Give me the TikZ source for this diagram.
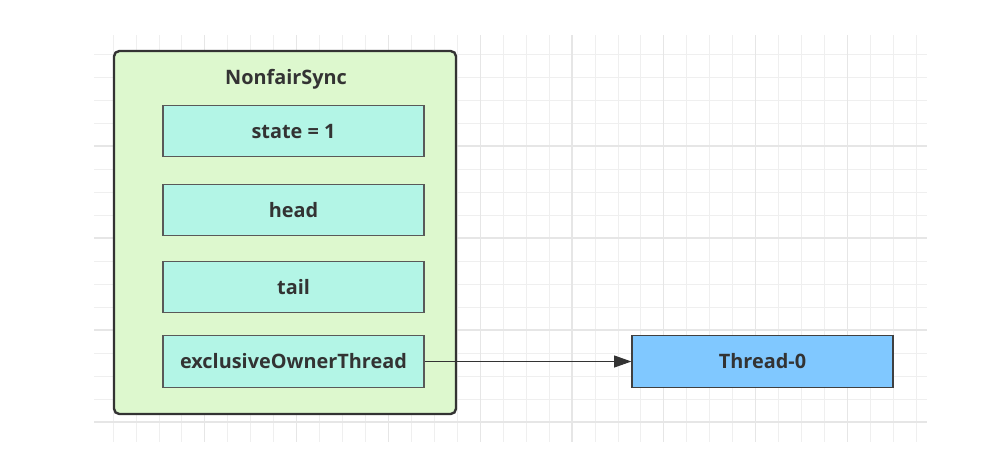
\documentclass[tikz,border=0pt]{standalone}
\usepackage{fontspec}
\setmainfont{Open Sans}
\usetikzlibrary{arrows.meta}
\definecolor{gridminor}{HTML}{EFEFEF}
\definecolor{gridmajor}{HTML}{E6E6E6}
\definecolor{outerfill}{HTML}{DDF8CE}
\definecolor{innerfill}{HTML}{B3F5E6}
\definecolor{threadfill}{HTML}{80C8FF}
\definecolor{txt}{HTML}{333333}
\tikzset{
  lbl/.style={font=\bfseries\fontsize{14.9}{17}\selectfont, text=txt},
  field/.style={draw=black!65, line width=0.9pt, fill=innerfill, minimum width=195.75pt, minimum height=38.5pt, inner sep=0pt, lbl},
  threadbox/.style={draw=black!75, line width=0.9pt, fill=threadfill, minimum width=195.75pt, minimum height=38.5pt, inner sep=0pt, lbl},
  outer/.style={draw=black!80, line width=1.8pt, fill=outerfill, rounded corners=4pt},
  link/.style={draw=black!80, line width=0.8pt, -{Triangle[length=13pt,width=9pt]}}
}
\begin{document}
\begin{tikzpicture}[x=0.75pt,y=-0.75pt]
\useasboundingbox (0,0) rectangle (992,451);
\fill[white] (0,0) rectangle (992,451);
% grid
\foreach \i in {0,...,35} {
  \pgfmathsetmacro{\xx}{113+22.95*\i}
  \draw[gridminor, line width=0.6pt] (\xx,35) -- (\xx,442);
}
\foreach \j in {0,...,16} {
  \pgfmathsetmacro{\yy}{54+23*\j}
  \draw[gridminor, line width=0.6pt] (94,\yy) -- (927,\yy);
}
\foreach \i in {4,8,...,32} {
  \pgfmathsetmacro{\xx}{113+22.95*\i}
  \draw[gridmajor, line width=0.8pt] (\xx,35) -- (\xx,442);
}
\foreach \j in {4,8,12,16} {
  \pgfmathsetmacro{\yy}{54+23*\j}
  \draw[gridmajor, line width=0.8pt] (94,\yy) -- (927,\yy);
}
% outer container
\path[outer] (114,51) rectangle (456,414);
\node[lbl] (title) at (286,79) {NonfairSync};
\node[field] (state) at (293.5,131) {state = 1};
\node[field] (head) at (293.5,210) {head};
\node[field] (tail) at (293.5,287) {tail};
\node[field] (owner) at (293.5,361.5) {exclusiveOwnerThread};
\node[threadbox] (thread) at (762.5,361.5) {Thread-0};
\draw[link] (owner) -- (thread);
\end{tikzpicture}
\end{document}
